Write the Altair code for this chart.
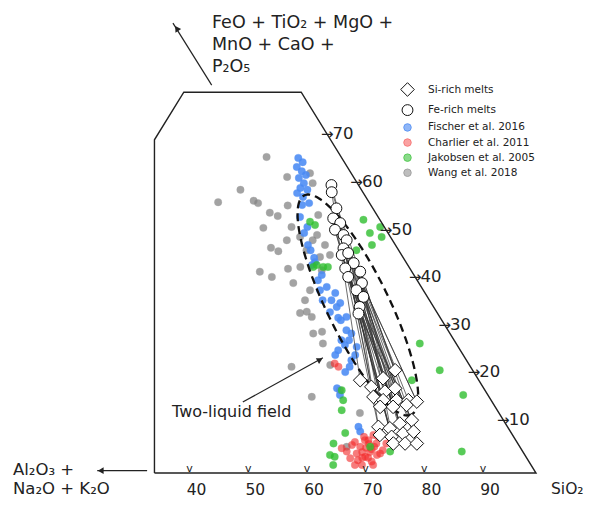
import numpy as np
import pandas as pd
import altair as alt

# ---------------- values (wt%) ----------------
# sio2 = SiO2 ; feo = FeO + TiO2 + MgO + MnO + CaO + P2O5
wang_sio2 = [20.9, 19.9, 17.4, 23.3, 24.3, 27.3, 29.0, 29.6, 26.5, 27.8, 32.5, 31.2, 32.8, 33.1,
             35.0, 31.8, 34.4, 36.3, 38.2, 37.5, 37.5, 30.0, 31.5, 37.7, 40.5, 42.3, 38.7, 44.0,
             43.0, 45.4, 47.4, 48.7, 50.1, 47.2, 53.8, 65.0, 63.7, 53.6, 57.9, 35.8, 40.1, 42.0,
             42.2, 42.5]
wang_feo = [66.4, 59.5, 56.9, 57.2, 56.7, 54.7, 54.0, 56.2, 62.2, 51.5, 51.7, 47.3, 46.6, 48.9,
            49.6, 42.3, 41.2, 42.9, 43.3, 46.8, 48.9, 63.0, 60.9, 50.0, 45.4, 38.4, 39.9, 33.9,
            33.6, 32.8, 29.3, 29.7, 27.2, 22.3, 16.0, 5.5, 12.6, 22.7, 17.4, 54.2, 47.9, 45.8,
            42.6, 36.3]

fischer_sio2 = [26.4, 27.6, 27.1, 28.4, 29.5, 28.6, 30.0, 29.9, 31.3, 31.3, 33.0, 32.9, 35.2,
                35.3, 38.2, 39.6, 42.6, 42.7, 44.8, 47.0, 46.9, 48.6, 48.8, 51.3, 50.7, 52.7,
                53.9, 52.9, 56.2, 53.4, 53.4, 56.7, 57.1, 57.2, 64.9, 65.7, 40.0, 44.0, 54.0,
                45.5, 48.0, 50.0, 54.2, 56.8, 56.9, 40.2, 37.2, 32.0, 29.9, 58.4]
fischer_feo = [66.2, 65.3, 64.3, 63.4, 62.6, 62.0, 60.9, 59.9, 59.5, 58.0, 56.7, 53.8, 51.7,
               50.4, 46.8, 45.2, 40.5, 41.6, 39.1, 36.3, 37.8, 34.9, 35.7, 32.8, 32.1, 30.0,
               29.3, 27.9, 26.5, 25.8, 24.8, 23.7, 22.3, 17.8, 9.7, 8.7, 43.7, 38.4, 26.9,
               36.3, 33.8, 32.6, 27.9, 24.8, 21.2, 44.3, 47.9, 56.3, 58.8, 16.4]

charlier_sio2 = [55.2, 54.2, 67.3, 68.0, 69.7, 71.4, 69.2, 67.4, 65.5, 66.8, 64.3, 70.8, 69.5,
                 71.4, 68.3, 67.4, 69.5, 68.2, 69.8, 69.3, 65.9, 68.4, 69.5, 69.7, 68.8, 68.5,
                 71.0, 68.3, 71.4, 65.7, 71.5, 66.9, 68.3]
charlier_feo = [22.3, 23.0, 5.5, 6.9, 6.2, 4.1, 3.4, 4.1, 4.5, 3.1, 5.2, 2.4, 1.7,
                6.2, 8.0, 6.9, 5.0, 4.4, 3.2, 7.6, 6.5, 5.3, 4.4, 5.5, 3.2, 6.1,
                3.8, 2.7, 1.7, 5.9, 4.8, 7.6, 1.7]

jakobsen_sio2 = [44.0, 47.6, 46.5, 48.9, 48.1, 35.1, 36.3, 40.8, 42.1, 42.9, 40.4, 46.0, 66.6,
                 72.8, 79.4, 85.1, 62.4, 64.0, 64.6, 58.2, 59.5, 60.3, 69.0, 72.9, 69.1, 63.3, 63.0]
jakobsen_feo = [53.2, 51.7, 50.4, 49.6, 47.9, 52.8, 52.1, 43.7, 43.3, 43.3, 43.3, 46.8, 27.2,
                21.6, 16.4, 4.5, 6.2, 3.4, 1.7, 17.4, 15.3, 13.2, 5.5, 4.5, 19.5, 8.4, 3.8]

fe_rich_sio2 = [34.9, 35.7, 38.2, 38.7, 40.4, 40.2, 42.2, 43.3, 43.6, 44.0, 44.9, 46.9, 46.0,
                48.9, 47.4, 50.4, 50.2, 52.1, 52.5, 53.0]
fe_rich_feo = [60.5, 59.0, 55.6, 53.5, 52.5, 51.1, 50.0, 48.9, 47.2, 45.8, 46.2, 44.1, 43.0,
               42.3, 41.2, 39.9, 38.4, 37.0, 34.9, 33.5]

si_rich_sio2 = [60.3, 64.0, 65.2, 62.9, 65.7, 67.1, 64.3, 66.3, 68.6, 70.6, 66.5, 68.7, 70.8,
                72.2, 68.3, 70.4, 71.6, 73.3, 69.4, 71.6, 73.2, 74.8, 72.6, 74.6, 76.6]
si_rich_feo = [19.5, 19.9, 21.6, 18.1, 17.1, 17.8, 16.0, 15.3, 15.3, 15.3, 13.9, 13.9, 14.3,
               15.0, 9.7, 9.4, 10.4, 11.1, 8.0, 7.6, 8.3, 8.7, 6.2, 6.2, 6.2]

# tie lines: index of Fe-rich melt -> index of its Si-rich conjugate
tie_fe = [0, 1, 2, 3, 4, 5, 6, 7, 8, 9, 10, 11, 12, 13, 14, 15, 16, 17, 18, 19,
          9, 11, 13, 15, 17, 16, 19, 18, 12, 14, 5, 7, 8, 10, 12, 14, 3, 1]
tie_si = [1, 0, 3, 2, 6, 4, 5, 10, 7, 8, 11, 9, 14, 12, 15, 13, 18, 16, 19, 17,
          20, 21, 22, 23, 24, 20, 22, 23, 16, 17, 7, 8, 11, 13, 17, 19, 5, 2]

# frame of the truncated ternary (SiO2, FeO*)
frame_sio2 = [35, 0, 0, 20, 100, 35]
frame_feo = [0, 70, 80, 80, 0, 0]

bottom_ticks = [40, 50, 60, 70, 80, 90]
right_ticks = [10, 20, 30, 40, 50, 60, 70]

# two-liquid field (dashed ellipse): centre in wt%, semi-axes in screen px, tilt of long axis
ell_sio2, ell_feo = 52.0, 35.3
ell_a, ell_b, ell_tilt = 122.0, 31.0, 26.0

SERIES = ["Si-rich melts", "Fe-rich melts", "Fischer et al. 2016",
          "Charlier et al. 2011", "Jakobsen et al. 2005", "Wang et al. 2018"]
FILL = ["white", "white", "#4a8af4", "#f32b2b", "#2fbf2f", "#858585"]
STROKE = ["#111111", "#111111", "#4a8af4", "#f32b2b", "#2fbf2f", "#858585"]
SHAPE = ["diamond", "circle", "circle", "circle", "circle", "circle"]
SIZE = [185, 118, 56, 56, 56, 56]
OPAC = [1.0, 1.0, 0.88, 0.62, 0.8, 0.75]

# ---------------- geometry of the view ----------------
W, H = 576, 490
PX_X, PX_Y = 5.87, 4.76        # px per wt% horizontally / vertically
X0, F0 = 10.05, -5.25
XS = alt.Scale(domain=[X0, X0 + W / PX_X], nice=False, zero=False)
YS = alt.Scale(domain=[F0, F0 + H / PX_Y], nice=False, zero=False)
FONT = "DejaVu Sans"
INK = "#222222"

def df(series, s, f):
    return pd.DataFrame({"series": series, "sio2": s, "feo": f})

bg = pd.concat([df("Wang et al. 2018", wang_sio2, wang_feo),
                df("Fischer et al. 2016", fischer_sio2, fischer_feo),
                df("Charlier et al. 2011", charlier_sio2, charlier_feo),
                df("Jakobsen et al. 2005", jakobsen_sio2, jakobsen_feo)], ignore_index=True)
fg = pd.concat([df("Fe-rich melts", fe_rich_sio2, fe_rich_feo),
                df("Si-rich melts", si_rich_sio2, si_rich_feo)], ignore_index=True)

ties = pd.DataFrame({
    "s1": [fe_rich_sio2[i] for i in tie_fe], "f1": [fe_rich_feo[i] for i in tie_fe],
    "s2": [si_rich_sio2[j] for j in tie_si], "f2": [si_rich_feo[j] for j in tie_si]})

t = np.linspace(0, 2 * np.pi, 241)
th = np.radians(ell_tilt)
ux, uy = np.sin(th), np.cos(th)
vx, vy = -uy, ux
dxp = ell_a * np.cos(t) * ux + ell_b * np.sin(t) * vx
dyp = ell_a * np.cos(t) * uy + ell_b * np.sin(t) * vy
e_feo = ell_feo - dyp / PX_Y
e_x = ell_sio2 + ell_feo / 2 + dxp / PX_X
ell = pd.DataFrame({"i": np.arange(len(t)), "sio2": e_x - e_feo / 2, "feo": e_feo})

frame = pd.DataFrame({"i": range(len(frame_sio2)), "sio2": frame_sio2, "feo": frame_feo})
bt = pd.DataFrame({"sio2": bottom_ticks, "feo": 0, "lab": [str(v) for v in bottom_ticks]})
rt = pd.DataFrame({"sio2": [100 - v for v in right_ticks], "feo": right_ticks,
                   "lab": [str(v) for v in right_ticks]})

CALC = "datum.sio2 + datum.feo / 2"
X = alt.X("X:Q", scale=XS, axis=None)
Y = alt.Y("feo:Q", scale=YS, axis=None)

leg = alt.Legend(title=None, orient="none", legendX=392, legendY=74, labelFont=FONT,
                 labelFontSize=10.5, labelColor=INK, symbolStrokeWidth=1, rowPadding=3.1,
                 labelOffset=13, padding=0)

def sc(rng):
    return alt.Scale(type="ordinal", domain=SERIES, range=rng)

def pts(data, stroke_w):
    return alt.Chart(data).transform_calculate(X=CALC).mark_point(
        filled=True, strokeWidth=stroke_w).encode(
        x=X, y=Y,
        shape=alt.Shape("series:N", scale=sc(SHAPE), legend=leg),
        fill=alt.Fill("series:N", scale=sc(FILL), legend=leg),
        stroke=alt.Stroke("series:N", scale=sc(STROKE), legend=leg),
        size=alt.Size("series:N", scale=sc(SIZE), legend=leg),
        opacity=alt.Opacity("series:N", scale=sc(OPAC), legend=leg),
    )

bg_layer = pts(bg, 0.3)
fg_layer = pts(fg, 1.0)

tie_layer = alt.Chart(ties).transform_calculate(
    X1="datum.s1 + datum.f1 / 2", X2="datum.s2 + datum.f2 / 2").mark_rule(
    color="#333333", strokeWidth=0.85, opacity=0.85).encode(
    x=alt.X("X1:Q", scale=XS, axis=None), y=alt.Y("f1:Q", scale=YS, axis=None),
    x2="X2:Q", y2="f2:Q")

ell_layer = alt.Chart(ell).transform_calculate(X=CALC).mark_line(
    color="#111111", strokeWidth=2.3, strokeDash=[8, 5]).encode(x=X, y=Y, order="i:Q")

frame_layer = alt.Chart(frame).transform_calculate(X=CALC).mark_line(
    color=INK, strokeWidth=1.4).encode(x=X, y=Y, order="i:Q")

bt_v = alt.Chart(bt).transform_calculate(X=CALC).mark_text(
    text="v", font=FONT, fontSize=11, color=INK, baseline="alphabetic",
    dx=5.7, dy=-1).encode(x=X, y=Y)
bt_lab = alt.Chart(bt).transform_calculate(X=CALC).mark_text(
    font=FONT, fontSize=15.5, color=INK, baseline="middle", align="center",
    dx=12.8, dy=16.5).encode(x=X, y=Y, text="lab:N")
rt_arrow = alt.Chart(rt).transform_calculate(X=CALC).mark_text(
    text="→", font=FONT, fontSize=15, color=INK, baseline="middle", align="right",
    dx=3, dy=-5.5).encode(x=X, y=Y)
rt_lab = alt.Chart(rt).transform_calculate(X=CALC).mark_text(
    font=FONT, fontSize=16.5, color=INK, baseline="middle", align="left",
    dx=2, dy=-5.5).encode(x=X, y=Y, text="lab:N")

# annotation arrows (wt% coordinates of tail and head)
arrows = pd.DataFrame({
    "s1": [4.0, 33.5, 42.6], "f1": [81.5, 0.5, 14.9],
    "s2": [-9.1, 25.0, 51.6], "f2": [94.5, 0.5, 24.2]})
heads = pd.DataFrame({"sio2": [-7.9, 25.6, 51.3], "feo": [93.4, 0.5, 23.8],
                      "ang": [328, 270, 61]})
arrow_lines = alt.Chart(arrows).transform_calculate(
    X1="datum.s1 + datum.f1 / 2", X2="datum.s2 + datum.f2 / 2").mark_rule(
    color=INK, strokeWidth=1.2).encode(
    x=alt.X("X1:Q", scale=XS, axis=None), y=alt.Y("f1:Q", scale=YS, axis=None),
    x2="X2:Q", y2="f2:Q")
arrow_heads = alt.Chart(heads).transform_calculate(X=CALC).mark_point(
    shape="triangle-up", filled=True, color=INK, size=45, opacity=1).encode(
    x=X, y=Y, angle=alt.Angle("ang:Q", scale=None))

one = pd.DataFrame({"a": [0]})
def label(lines, x, y, size=16, lh=22):
    return alt.Chart(one).mark_text(
        text=lines, font=FONT, fontSize=size, color=INK, align="left",
        baseline="alphabetic", lineHeight=lh).encode(x=alt.value(x), y=alt.value(y))

top_label = label(["FeO + TiO₂ + MgO +", "MnO + CaO +", "P₂O₅"], 204, 20, 17.5, 22)
left_label = label(["Al₂O₃ +", "Na₂O + K₂O"], 5, 467, 16.5, 19)
sio2_label = label("SiO₂", 543, 486, 15.5)
field_label = alt.Chart(one).mark_text(
    text="Two-liquid field", font=FONT, fontSize=16, color=INK, align="left",
    baseline="middle").encode(x=alt.value(164), y=alt.value(404))

chart = alt.layer(
    bg_layer, tie_layer, ell_layer, fg_layer, frame_layer,
    bt_v, bt_lab, rt_arrow, rt_lab, arrow_lines, arrow_heads,
    top_label, left_label, sio2_label, field_label,
).properties(
    width=W, height=H, padding=0, autosize=alt.AutoSizeParams(type="none"),
    background="white",
).configure_view(stroke=None)

chart.save("out.html", embed_options={"renderer": "svg", "actions": False})
